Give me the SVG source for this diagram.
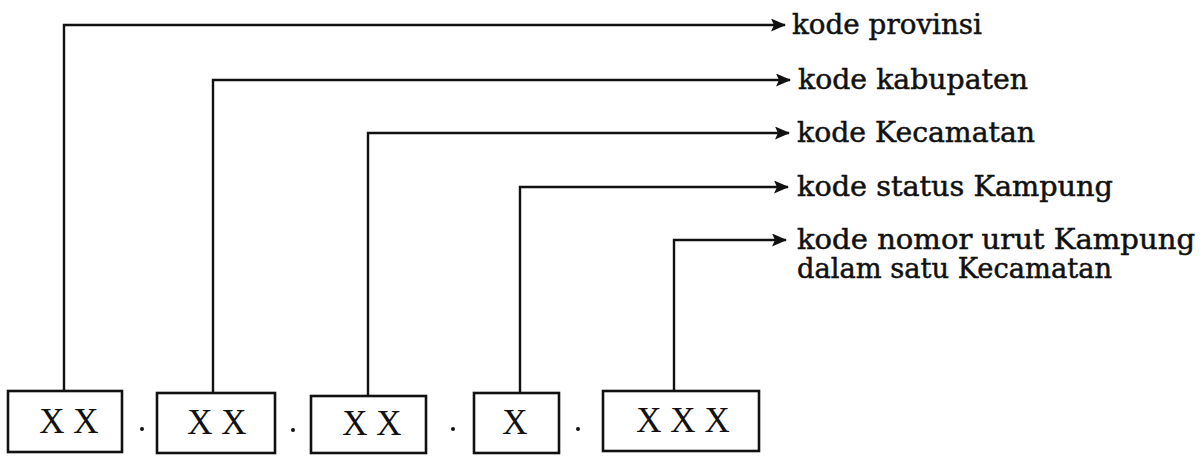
<svg xmlns="http://www.w3.org/2000/svg" width="1204" height="456" viewBox="0 0 1204 456">
<defs>
<style>
.box{fill:#fff;stroke:#111;stroke-width:2.6}
.bx{font-family:"Liberation Serif",serif;font-size:35px;fill:#111;text-anchor:middle}
.lbl{font-family:"DejaVu Serif",serif;font-size:27px;fill:#111;stroke:#111;stroke-width:0.5}
.con{fill:none;stroke:#111;stroke-width:2.4}
.dot{fill:#111}
</style>
<marker id="ah" markerWidth="15" markerHeight="13" refX="14" refY="6.5" orient="auto" markerUnits="userSpaceOnUse">
<path d="M0,0 L15,6.5 L0,13 L3,6.5 Z" fill="#111"/>
</marker>
</defs>
<rect width="1204" height="456" fill="#fff"/>
<g id="connectors">
<polyline class="con" points="64,391 64,25 785,25" marker-end="url(#ah)"/>
<polyline class="con" points="213,393 213,80 790,80" marker-end="url(#ah)"/>
<polyline class="con" points="368,396 368,133 789,133" marker-end="url(#ah)"/>
<polyline class="con" points="520,393 520,187 788,187" marker-end="url(#ah)"/>
<polyline class="con" points="674,391 674,240 786,240" marker-end="url(#ah)"/>
</g>
<g id="box1"><rect class="box" x="8" y="391" width="114" height="61"/><text class="bx" x="69" y="433">X X</text></g>
<g id="box2"><rect class="box" x="157" y="393" width="118" height="60"/><text class="bx" x="217" y="434">X X</text></g>
<g id="box3"><rect class="box" x="311" y="396" width="115" height="57"/><text class="bx" x="372" y="435">X X</text></g>
<g id="box4"><rect class="box" x="474" y="393" width="85" height="60"/><text class="bx" x="515" y="434">X</text></g>
<g id="box5"><rect class="box" x="603" y="391" width="156" height="60"/><text class="bx" x="683" y="432">X X X</text></g>
<g id="dots">
<circle class="dot" cx="142" cy="429" r="2"/>
<circle class="dot" cx="293" cy="430" r="2"/>
<circle class="dot" cx="453" cy="429" r="2"/>
<circle class="dot" cx="578" cy="429" r="2"/>
</g>
<g id="label1"><text class="lbl" x="792" y="34" textLength="190" lengthAdjust="spacingAndGlyphs">kode provinsi</text></g>
<g id="label2"><text class="lbl" x="798" y="89" textLength="230" lengthAdjust="spacingAndGlyphs">kode kabupaten</text></g>
<g id="label3"><text class="lbl" x="797" y="142" textLength="238" lengthAdjust="spacingAndGlyphs">kode Kecamatan</text></g>
<g id="label4"><text class="lbl" x="797" y="196" textLength="316" lengthAdjust="spacingAndGlyphs">kode status Kampung</text></g>
<g id="label5"><text class="lbl" x="797" y="249" textLength="398" lengthAdjust="spacingAndGlyphs">kode nomor urut Kampung</text><text class="lbl" x="797" y="278" textLength="315" lengthAdjust="spacingAndGlyphs">dalam satu Kecamatan</text></g>
</svg>
